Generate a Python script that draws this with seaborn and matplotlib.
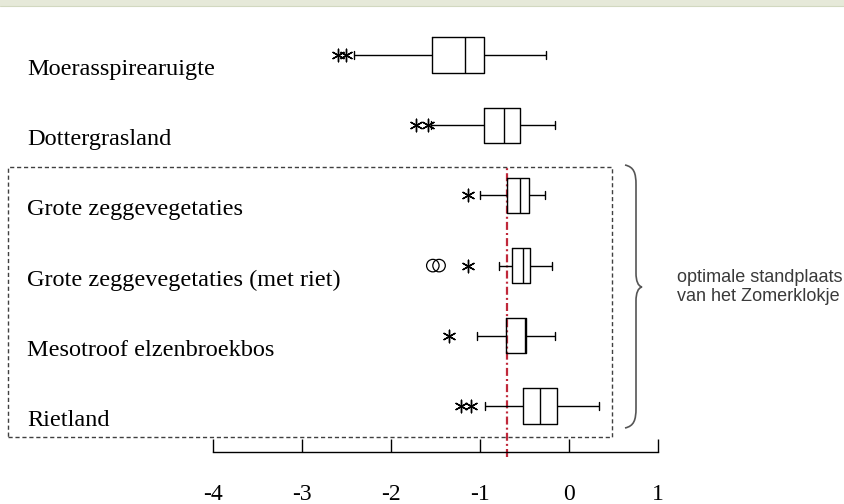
import numpy as np
import pandas as pd
import matplotlib
matplotlib.use("Agg")
import matplotlib.pyplot as plt
import matplotlib.transforms as mtransforms
from matplotlib.patches import Rectangle, PathPatch
from matplotlib.path import Path
import seaborn as sns

# ---------------- data ----------------
categories = ["Moerasspirearuigte", "Dottergrasland", "Grote zeggevegetaties",
              "Grote zeggevegetaties (met riet)", "Mesotroof elzenbroekbos", "Rietland"]
whisker_low = [-2.42, -1.55, -1.00, -0.79, -1.03, -0.94]
q1 = [-1.54, -0.95, -0.70, -0.64, -0.71, -0.52]
median = [-1.17, -0.73, -0.55, -0.52, -0.49, -0.33]
q3 = [-0.95, -0.55, -0.45, -0.44, -0.48, -0.13]
whisker_high = [-0.26, -0.16, -0.27, -0.19, -0.16, 0.34]
extreme_cat = ["Moerasspirearuigte", "Moerasspirearuigte", "Dottergrasland", "Dottergrasland",
               "Grote zeggevegetaties", "Grote zeggevegetaties (met riet)",
               "Mesotroof elzenbroekbos", "Rietland", "Rietland"]
extreme_val = [-2.60, -2.51, -1.72, -1.58, -1.14, -1.13, -1.35, -1.21, -1.10]
outlier_cat = ["Grote zeggevegetaties (met riet)", "Grote zeggevegetaties (met riet)"]
outlier_val = [-1.53, -1.46]
optimum = -0.70
xticks = [-4, -3, -2, -1, 0, 1]
annotation = "optimale standplaats\nvan het Zomerklokje"

# ---------------- tables ----------------
rows = []
for c, a, b, m, d, e in zip(categories, whisker_low, q1, median, q3, whisker_high):
    for v in (a, b, m, d, e):
        rows.append({"category": c, "value": v})
box_df = pd.DataFrame(rows)
ext_df = pd.DataFrame({"category": extreme_cat, "value": extreme_val})
out_df = pd.DataFrame({"category": outlier_cat, "value": outlier_val})

sns.set_style("ticks")
plt.rcParams["axes.unicode_minus"] = False

W, H = 845, 504
fig = plt.figure(figsize=(W / 100, H / 100), dpi=100)
ax = fig.add_axes([0, 52 / H, 1, 452 / H])

serif = ["Liberation Serif", "DejaVu Serif"]
sans = ["Liberation Sans", "DejaVu Sans"]

sns.boxplot(data=box_df, x="value", y="category", order=categories, orient="h",
            whis=(0, 100), width=0.5, fill=False, color="black", linewidth=1.0,
            showfliers=False, capwidths=0.115, ax=ax)
sns.stripplot(data=ext_df, x="value", y="category", order=categories, orient="h",
              jitter=False, marker=(6, 2, 0), color="black", linewidth=1.0,
              size=9, ax=ax)
sns.stripplot(data=out_df, x="value", y="category", order=categories, orient="h",
              jitter=False, marker="o", facecolor="none", edgecolor="black",
              linewidth=0.9, size=9, ax=ax)

# scales: pixel x = 569 + 89*v
ax.set_xlim((0 - 569) / 89, (W - 569) / 89)
step = 70.2
top_val = -55 / step
ax.set_ylim(top_val + 452 / step, top_val)

ax.set_yticks([])
ax.set_ylabel("")
ax.set_xlabel("")
for s in ["left", "top", "right"]:
    ax.spines[s].set_visible(False)
ax.spines["bottom"].set_bounds(xticks[0], xticks[-1])
ax.spines["bottom"].set_color("black")
ax.spines["bottom"].set_linewidth(1.0)
ax.set_xticks(xticks)
ax.set_xticklabels([str(t) for t in xticks], family=serif, fontsize=17)
ax.tick_params(axis="x", bottom=True, direction="in", length=9.5, width=1.0,
               color="black", pad=23, labelcolor="black")
ax.patch.set_alpha(0)

# optimum line
ax.axvline(optimum, ymin=-5 / 452, ymax=1 - 167 / 452, color="#c0283a", lw=1.6,
           linestyle=(0, (3.6, 1.4, 0.9, 1.4)), clip_on=False, zorder=1)

# category labels
trans = mtransforms.blended_transform_factory(fig.transFigure, ax.transData)
trans = mtransforms.offset_copy(trans, fig=fig, x=0, y=-20, units="dots")
for c_i, c in enumerate(categories):
    ax.text(27 / W, c_i, c, transform=trans, ha="left", va="baseline",
            family=serif, fontsize=17.5, color="black")

# pixel helper (from top-left)
def fx(px):
    return px / W

def fy(py):
    return 1 - py / H

# top band
fig.patches.append(Rectangle((0, fy(6)), 1, 6 / H, transform=fig.transFigure,
                             facecolor="#e6e9d9", edgecolor="none", zorder=0))
fig.lines.append(plt.Line2D([0, 1], [fy(6), fy(6)], transform=fig.transFigure,
                            color="#d2d8c0", lw=0.8))

# dashed rectangle
fig.patches.append(Rectangle((fx(8), fy(437)), (612 - 8) / W, (437 - 167) / H,
                             transform=fig.transFigure, facecolor="none",
                             edgecolor="#404040", lw=1.0, linestyle=(0, (3, 2))))

# curly brace
x0, x1, xt = 625, 636, 642
yt0, ytip, yb = 165, 287, 428
verts = [(x0, yt0), (x1 - 2, yt0 + 2), (x1, yt0 + 8), (x1, yt0 + 20),
         (x1, ytip - 14),
         (x1, ytip - 6), (x1 + 2, ytip - 1), (xt, ytip),
         (x1 + 2, ytip + 1), (x1, ytip + 6), (x1, ytip + 14),
         (x1, yb - 20),
         (x1, yb - 8), (x1 - 2, yb - 2), (x0, yb)]
codes = [Path.MOVETO, Path.CURVE4, Path.CURVE4, Path.CURVE4,
         Path.LINETO,
         Path.CURVE4, Path.CURVE4, Path.CURVE4,
         Path.CURVE4, Path.CURVE4, Path.CURVE4,
         Path.LINETO,
         Path.CURVE4, Path.CURVE4, Path.CURVE4]
verts_f = [(fx(a), fy(b)) for a, b in verts]
fig.patches.append(PathPatch(Path(verts_f, codes), transform=fig.transFigure,
                             facecolor="none", edgecolor="#555555", lw=1.2))

fig.text(fx(677), fy(287), annotation, ha="left", va="center", family=sans,
         fontsize=13, color="#3a3a3a", linespacing=1.2)

fig.savefig("out.png", dpi=100)
